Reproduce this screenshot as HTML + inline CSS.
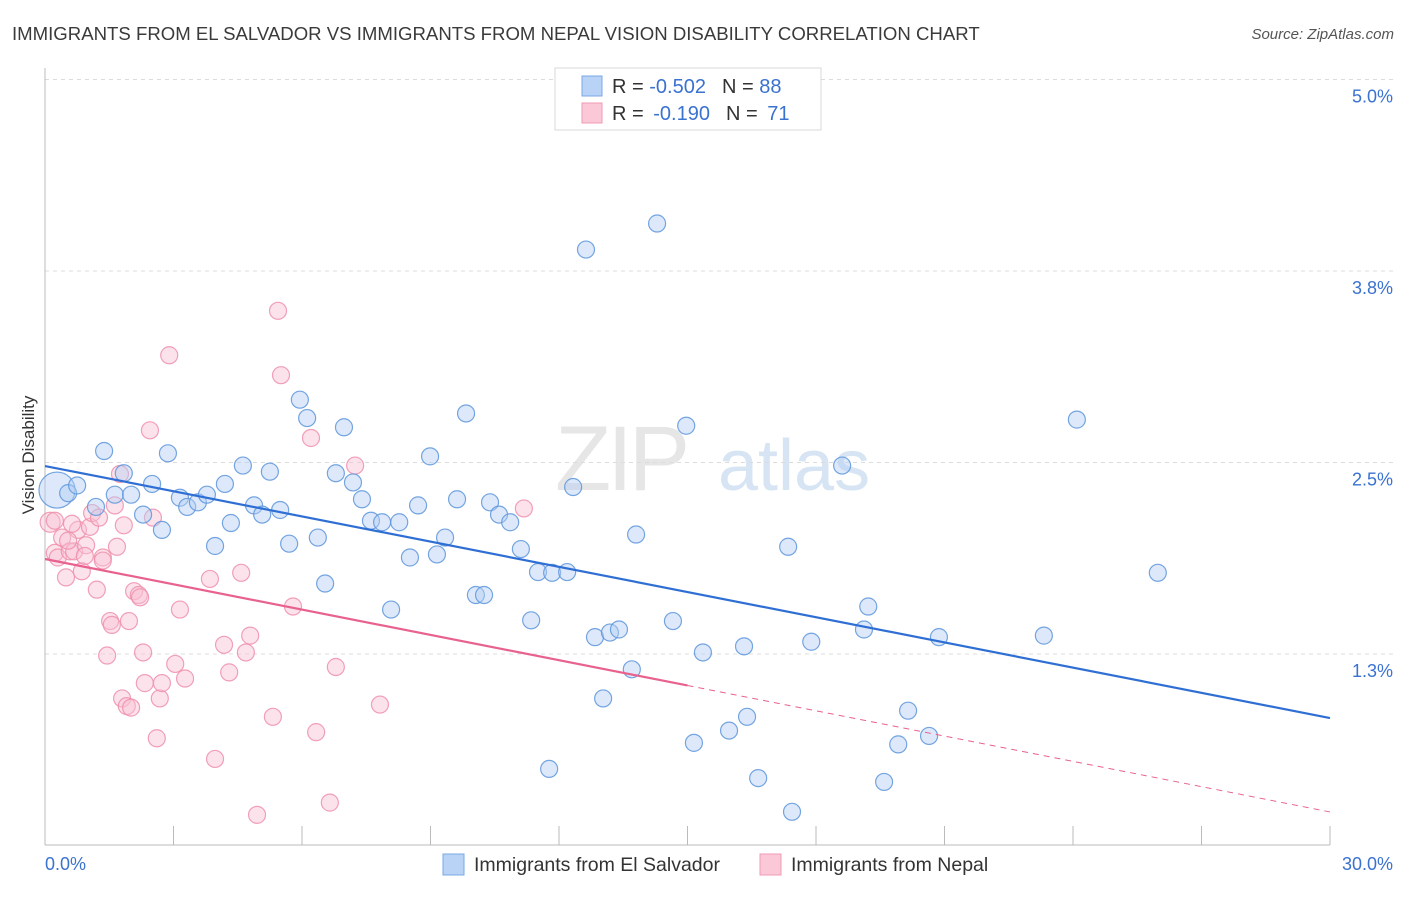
<!DOCTYPE html>
<html><head><meta charset="utf-8">
<style>
body{margin:0;background:#fff;font-family:"Liberation Sans",sans-serif;}
svg text{font-family:"Liberation Sans",sans-serif;}
</style></head>
<body>
<svg id="chart" width="1406" height="892" xmlns="http://www.w3.org/2000/svg">
<text x="12" y="40" font-size="18.6" fill="#3a3a3a">IMMIGRANTS FROM EL SALVADOR VS IMMIGRANTS FROM NEPAL VISION DISABILITY CORRELATION CHART</text>
<text x="1394" y="39" font-size="15" fill="#555" font-style="italic" text-anchor="end">Source: ZipAtlas.com</text>
<g>
<text x="555" y="490" font-size="92" fill="#e6e6e6" font-family="Liberation Serif" letter-spacing="-4">ZIP</text>
<text x="718" y="490" font-size="72" fill="#d6e4f3">atlas</text>
</g>
<g id="grid"></g>
<g id="axes"></g>
<g id="lines"></g>
<g id="points"></g>
<text transform="translate(34,455) rotate(-90)" font-size="17" fill="#333" text-anchor="middle">Vision Disability</text>
<g>
<rect x="555" y="68" width="266" height="62" fill="#fff" stroke="#d8d8d8"/>
<rect x="582" y="76" width="20" height="20" fill="#b8d3f5" stroke="#7aaae6"/>
<rect x="582" y="103" width="20" height="20" fill="#fac8d6" stroke="#f09ab4"/>
<text x="612" y="93" font-size="20" fill="#333">R = <tspan fill="#3a72d0">-0.502</tspan><tspan dx="16">N = </tspan><tspan fill="#3a72d0">88</tspan></text>
<text x="612" y="120" font-size="20" fill="#333">R = <tspan fill="#3a72d0" dx="4">-0.190</tspan><tspan dx="16">N = </tspan><tspan fill="#3a72d0" dx="4">71</tspan></text>
</g>
<g>
<rect x="443" y="854" width="21" height="21" fill="#b8d3f5" stroke="#7aaae6"/>
<text x="474" y="871" font-size="19.5" fill="#333">Immigrants from El Salvador</text>
<rect x="760" y="854" width="21" height="21" fill="#fac8d6" stroke="#f09ab4"/>
<text x="791" y="871" font-size="19.5" fill="#333">Immigrants from Nepal</text>
</g>
</svg>
<script>
const xTicks=[0,3,6,9,12,15,18,21,24,27,30];
const yTicks=[1.25,2.5,3.75,5.0];
const yTickLabels=["1.3%","2.5%","3.8%","5.0%"];
const xTickLabels=["0.0%","30.0%"];
const blueX=[0.28,0.54,0.75,1.38,1.63,1.84,2.01,2.29,2.50,2.73,2.87,3.15,3.32,3.57,3.78,3.97,4.20,4.34,4.62,4.88,5.07,5.25,5.49,5.70,5.95,6.12,6.37,6.54,6.79,6.98,7.19,7.40,7.61,7.87,8.08,8.27,8.52,8.71,8.99,9.15,9.34,9.62,9.83,10.06,10.25,10.39,10.60,10.86,11.11,11.35,11.51,11.77,11.84,12.19,12.33,12.63,13.03,12.84,13.19,13.40,13.70,13.80,14.29,14.66,14.97,15.15,15.36,15.97,16.32,16.39,16.65,17.35,17.44,17.89,18.61,19.12,19.22,19.59,19.92,20.15,20.64,20.87,23.32,24.09,25.98,1.19];
const blueY=[2.32,2.30,2.35,2.575,2.29,2.43,2.29,2.16,2.36,2.06,2.56,2.27,2.21,2.24,2.29,1.955,2.36,2.105,2.48,2.22,2.16,2.44,2.19,1.97,2.91,2.79,2.01,1.71,2.43,2.73,2.37,2.26,2.12,2.11,1.54,2.11,1.88,2.22,2.54,1.90,2.01,2.26,2.82,1.635,1.635,2.24,2.16,2.11,1.935,1.47,1.785,0.50,1.78,1.785,2.34,3.89,0.96,1.36,1.39,1.41,1.15,2.03,4.06,1.465,2.74,0.67,1.26,0.75,1.30,0.84,0.44,1.95,0.22,1.33,2.48,1.41,1.56,0.415,0.66,0.88,0.715,1.36,1.37,2.78,1.78,2.21];
const pinkX=[0.12,0.23,0.30,0.40,0.49,0.58,0.68,0.77,0.86,0.96,1.05,1.10,1.21,1.26,1.35,1.45,1.52,1.56,1.63,1.68,1.75,1.80,1.84,1.91,1.96,2.01,2.08,2.19,2.29,2.33,2.45,2.52,2.61,2.68,2.73,2.90,3.04,3.15,3.27,3.85,3.97,4.18,4.30,4.58,4.69,4.79,4.95,5.32,5.44,5.51,5.79,6.21,6.33,6.65,6.79,7.24,7.82,11.18,0.54,0.63,0.93,1.35,2.22,0.23];
const pinkY=[2.11,1.91,1.88,2.01,1.75,1.92,1.92,2.06,1.79,1.96,2.08,2.17,1.67,2.14,1.88,1.24,1.465,1.44,2.22,1.95,2.425,0.96,2.09,0.91,1.465,0.90,1.66,1.635,1.26,1.06,2.71,2.14,0.70,0.96,1.06,3.20,1.185,1.54,1.09,1.74,0.565,1.31,1.13,1.78,1.26,1.37,0.20,0.84,3.49,3.07,1.56,2.66,0.74,0.28,1.165,2.48,0.92,2.20,1.99,2.10,1.89,1.86,1.62,2.12];
const blueFit=[2.477,-0.05483];
const pinkFit=[1.870,-0.05503];
const pinkSolidEnd=15;

const NS="http://www.w3.org/2000/svg";
const X0=45,X1=1330,XMAX=30;
const sx=v=>X0+(v/XMAX)*(X1-X0);
const sy=v=>654-(v-1.25)*153.2;
function mk(tag,attrs,parent){const e=document.createElementNS(NS,tag);for(const k in attrs)e.setAttribute(k,attrs[k]);parent.appendChild(e);return e;}
const grid=document.getElementById('grid'),axes=document.getElementById('axes'),lines=document.getElementById('lines'),pts=document.getElementById('points');
yTicks.forEach((t,i)=>{
  const l=mk('line',{x1:X0,x2:1393,y1:sy(t),y2:sy(t),stroke:'#dcdcdc','stroke-dasharray':'4,4'},grid);
  
  
  const tx=mk('text',{x:1393,y:sy(t)+23,'font-size':18,fill:'#3a72d0','text-anchor':'end'},grid);
  tx.textContent=yTickLabels[i];
  
  
});
const ya=mk('line',{x1:X0,x2:X0,y1:68,y2:845,stroke:'#bbb'},axes);


const xa=mk('line',{x1:X0,x2:X1,y1:845,y2:845,stroke:'#bbb'},axes);


xTicks.forEach(t=>{
  const l=mk('line',{x1:sx(t),x2:sx(t),y1:826,y2:845,stroke:'#bbb'},axes);
  
  
});
const xl0=mk('text',{x:X0,y:870,'font-size':18,fill:'#3a72d0'},axes);
xl0.textContent=xTickLabels[0];


const xl1=mk('text',{x:1393,y:870,'font-size':18,fill:'#3a72d0','text-anchor':'end'},axes);
xl1.textContent=xTickLabels[1];



function dot(x,y,r,fill,stroke,name){
  const c=mk('circle',{cx:sx(x),cy:sy(y),r:r,fill:fill,'fill-opacity':0.45,stroke:stroke,'stroke-width':1.2,'stroke-opacity':0.85},pts);
  
  
}
pinkX.forEach((x,i)=>dot(x,pinkY[i],i===0?10:8.5,'#f9c2d2','#ee8fac','nepal-point'));
blueX.forEach((x,i)=>dot(x,blueY[i],i===0?18:8.5,'#b3cff3','#5d95dc','el-salvador-point'));

const bl=mk('line',{x1:sx(0),y1:sy(blueFit[0]),x2:sx(30),y2:sy(blueFit[0]+blueFit[1]*30),stroke:'#2f6fd4','stroke-width':2.2},lines);


const pl=mk('line',{x1:sx(0),y1:sy(pinkFit[0]),x2:sx(pinkSolidEnd),y2:sy(pinkFit[0]+pinkFit[1]*pinkSolidEnd),stroke:'#e8628e','stroke-width':2.2},lines);


const pd=mk('line',{x1:sx(pinkSolidEnd),y1:sy(pinkFit[0]+pinkFit[1]*pinkSolidEnd),x2:sx(30),y2:sy(pinkFit[0]+pinkFit[1]*30),stroke:'#e8628e','stroke-width':1,'stroke-dasharray':'6,5'},lines);


document.getElementById('chart').appendChild(lines);
</script>
</body></html>
